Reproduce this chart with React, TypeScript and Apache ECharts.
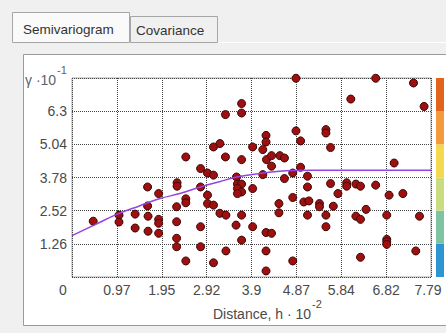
import React, { useEffect, useRef } from "react";
import * as echarts from "echarts";

const xTickLabels = ["0", "0.97", "1.95", "2.92", "3.9", "4.87", "5.84", "6.82", "7.79"];
const yTickLabels = ["0", "1.26", "2.52", "3.78", "5.04", "6.3", "7.56"];
const xMax = 7.79;
const yMax = 7.56;

const pointX = [
  0.46, 1.02, 1.02, 1.37, 1.65, 1.37, 1.65, 1.64, 1.88, 1.64, 1.88, 1.88, 1.88,
  2.28, 2.28, 2.27, 2.27, 2.27, 2.27,
  4.86, 3.68, 3.68, 3.33, 4.86, 4.96, 4.21, 4.21, 3.07, 3.21, 3.92, 4.14,
  2.47, 3.33, 3.68, 4.22, 4.33, 4.51, 4.61, 4.33, 4.96, 4.79, 4.61, 5.11,
  2.79, 2.94, 3.07, 3.57, 4.14, 2.79, 3.59, 3.68, 3.59, 3.68, 3.59, 3.92,
  2.47, 2.94, 4.79, 5.11, 2.47, 2.94, 3.07,
  3.21, 3.34, 3.68, 4.49, 4.49, 5.03, 5.11,
  2.79, 3.56, 3.92, 4.21, 4.33, 2.79, 3.68, 3.34, 4.21, 2.47, 3.07, 4.21, 4.79,
  6.59, 7.41, 6.05, 7.64, 5.51, 5.51, 5.61, 6.99,
  5.61, 5.96, 5.96, 6.16, 6.26, 6.59, 5.77, 6.88, 7.18,
  5.14, 5.37, 5.37, 5.67, 6.38, 5.51, 6.16, 6.26, 6.83, 7.54,
  5.51, 6.83, 6.83, 6.83, 7.46, 6.26,
];
const pointY = [
  2.12, 2.35, 2.09, 2.39, 2.31, 1.86, 1.74, 3.42, 3.17, 2.70, 2.19, 2.04, 1.66,
  3.58, 3.45, 2.67, 2.10, 1.47, 1.15,
  7.55, 6.59, 6.23, 6.17, 5.55, 5.17, 5.38, 5.13, 4.94, 5.07, 4.94, 4.84,
  4.56, 4.56, 4.46, 4.46, 4.61, 4.61, 4.52, 4.21, 4.17, 3.95, 3.74, 3.83,
  4.12, 3.95, 3.87, 3.80, 3.89, 3.42, 3.53, 3.53, 3.36, 3.23, 3.17, 3.36,
  2.97, 3.11, 3.02, 3.42, 2.82, 2.79, 2.73,
  2.42, 2.35, 2.35, 2.79, 2.44, 2.85, 2.35,
  1.91, 1.97, 1.91, 1.69, 1.66, 1.15, 1.40, 0.99, 0.99, 0.61, 0.54, 0.23, 0.61,
  7.55, 7.37, 6.76, 6.48, 5.60, 5.47, 4.92, 4.33,
  3.55, 3.58, 3.45, 3.53, 3.45, 3.49, 3.17, 3.11, 3.17,
  2.89, 2.79, 2.67, 2.69, 2.57, 2.35, 2.31, 2.19, 2.35, 2.31,
  1.91, 1.43, 1.34, 1.24, 0.99, 0.75,
];

const curveX = [0, 0.49, 0.97, 1.46, 1.91, 2.34, 2.79, 3.2, 3.57, 4.14, 4.5, 4.87, 5.2, 7.79];
const curveY = [1.57, 1.98, 2.38, 2.7, 2.98, 3.17, 3.42, 3.62, 3.8, 3.95, 4.02, 4.05, 4.06, 4.06];

const colorBands = ["#2f95d2", "#7ec4a2", "#c9dd80", "#f4d94e", "#f29a3c", "#e2641c"];

const FONT = "'Liberation Sans', Arial, sans-serif";

export default function App() {
  const ref = useRef<HTMLDivElement>(null);
  useEffect(() => {
    if (!ref.current) return;
    const chart = echarts.init(ref.current, undefined, { renderer: "svg" });
    const xInterval = xMax / (xTickLabels.length - 1);
    const yInterval = yMax / (yTickLabels.length - 1);
    const plotTop = 78;
    const plotBottom = 277;
    const bandH = (plotBottom - plotTop) / colorBands.length;
    const bands = colorBands.map((c, i) => ({
      type: "rect",
      shape: { x: 436, y: plotBottom - (i + 1) * bandH, width: 8, height: bandH },
      style: { fill: c },
      z: 1,
    }));
    chart.setOption({
      animation: false,
      backgroundColor: "#f0f0f0",
      grid: {
        left: 72,
        top: plotTop,
        right: 15,
        bottom: 333 - plotBottom,
        show: true,
        backgroundColor: "#ffffff",
        borderColor: "#a8a8a8",
        borderWidth: 1,
      },
      xAxis: {
        type: "value",
        min: 0,
        max: xMax,
        interval: xInterval,
        axisLine: { show: false },
        axisTick: { show: false },
        splitLine: { show: true, lineStyle: { color: "#444", type: [1, 1], width: 1 } },
        axisLabel: {
          color: "#4a4a4a",
          fontFamily: FONT,
          fontSize: 14,
          margin: 6,
          showMinLabel: true,
          showMaxLabel: true,
          formatter: (v: number) => {
            const i = Math.round(v / xInterval);
            if (i === 0) return "{z|" + xTickLabels[0] + "}";
            if (i === xTickLabels.length - 1) return "{e|" + xTickLabels[i] + "}";
            return xTickLabels[i];
          },
          rich: {
            z: { padding: [0, 18, 0, 0], color: "#4a4a4a", fontFamily: FONT, fontSize: 14 },
            e: { padding: [0, 6, 0, 0], color: "#4a4a4a", fontFamily: FONT, fontSize: 14 },
          },
        },
      },
      yAxis: {
        type: "value",
        min: 0,
        max: yMax,
        interval: yInterval,
        axisLine: { show: false },
        axisTick: { show: false },
        splitLine: { show: true, lineStyle: { color: "#444", type: [1, 1], width: 1 } },
        axisLabel: {
          color: "#4a4a4a",
          fontFamily: FONT,
          fontSize: 14,
          margin: 5,
          formatter: (v: number) => {
            const i = Math.round(v / yInterval);
            if (i === 0 || i === yTickLabels.length - 1) return "";
            return yTickLabels[i];
          },
        },
      },
      graphic: [
        {
          type: "rect",
          shape: { x: 23.5, y: 54.5, width: 440, height: 271 },
          style: { fill: "#ffffff", stroke: "#9a9a9a", lineWidth: 1 },
          z: -10,
        },
        {
          type: "rect",
          shape: { x: 130.5, y: 16.5, width: 87, height: 26 },
          style: { fill: "#f0f0f0", stroke: "#a6a6a6", lineWidth: 1 },
          z: -10,
        },
        {
          type: "rect",
          shape: { x: 12.5, y: 12.5, width: 117, height: 30 },
          style: { fill: "#fafafa", stroke: "#a6a6a6", lineWidth: 1 },
          z: -10,
        },
        {
          type: "line",
          shape: { x1: 218, y1: 42.5, x2: 446, y2: 42.5 },
          style: { stroke: "#ffffff", lineWidth: 1 },
          z: -10,
        },
        {
          type: "text",
          x: 23,
          y: 29,
          style: { text: "Semivariogram", fill: "#333", font: "13.5px " + FONT, textVerticalAlign: "middle" },
          z: 10,
        },
        {
          type: "text",
          x: 136,
          y: 30,
          style: { text: "Covariance", fill: "#333", font: "13.5px " + FONT, textVerticalAlign: "middle" },
          z: 10,
        },
        {
          type: "text",
          x: 25,
          y: 80,
          style: { text: "γ ·10", fill: "#5c6270", font: "14px " + FONT, textVerticalAlign: "middle" },
          z: 10,
        },
        {
          type: "text",
          x: 57,
          y: 70,
          style: { text: "-1", fill: "#5c6270", font: "11px " + FONT, textVerticalAlign: "middle" },
          z: 10,
        },
        {
          type: "text",
          x: 213,
          y: 314,
          style: { text: "Distance, h · 10", fill: "#4a4a4a", font: "14px " + FONT, textVerticalAlign: "middle" },
          z: 10,
        },
        {
          type: "text",
          x: 312,
          y: 304,
          style: { text: "-2", fill: "#4a4a4a", font: "11px " + FONT, textVerticalAlign: "middle" },
          z: 10,
        },
        ...bands,
      ],
      series: [
        {
          type: "scatter",
          data: pointX.map((x, i) => [x, pointY[i]]),
          symbolSize: 8,
          itemStyle: { color: "#9e1010", borderColor: "#3d0606", borderWidth: 1, opacity: 1 },
          z: 3,
        },
        {
          type: "line",
          data: curveX.map((x, i) => [x, curveY[i]]),
          smooth: 0.4,
          showSymbol: false,
          symbol: "none",
          lineStyle: { color: "#9444e2", width: 1.5 },
          z: 4,
        },
      ],
    });
    return () => chart.dispose();
  }, []);
  return (
    <div
      ref={ref}
      style={{ position: "absolute", left: 0, top: 0, width: 446, height: 333 }}
    />
  );
}
